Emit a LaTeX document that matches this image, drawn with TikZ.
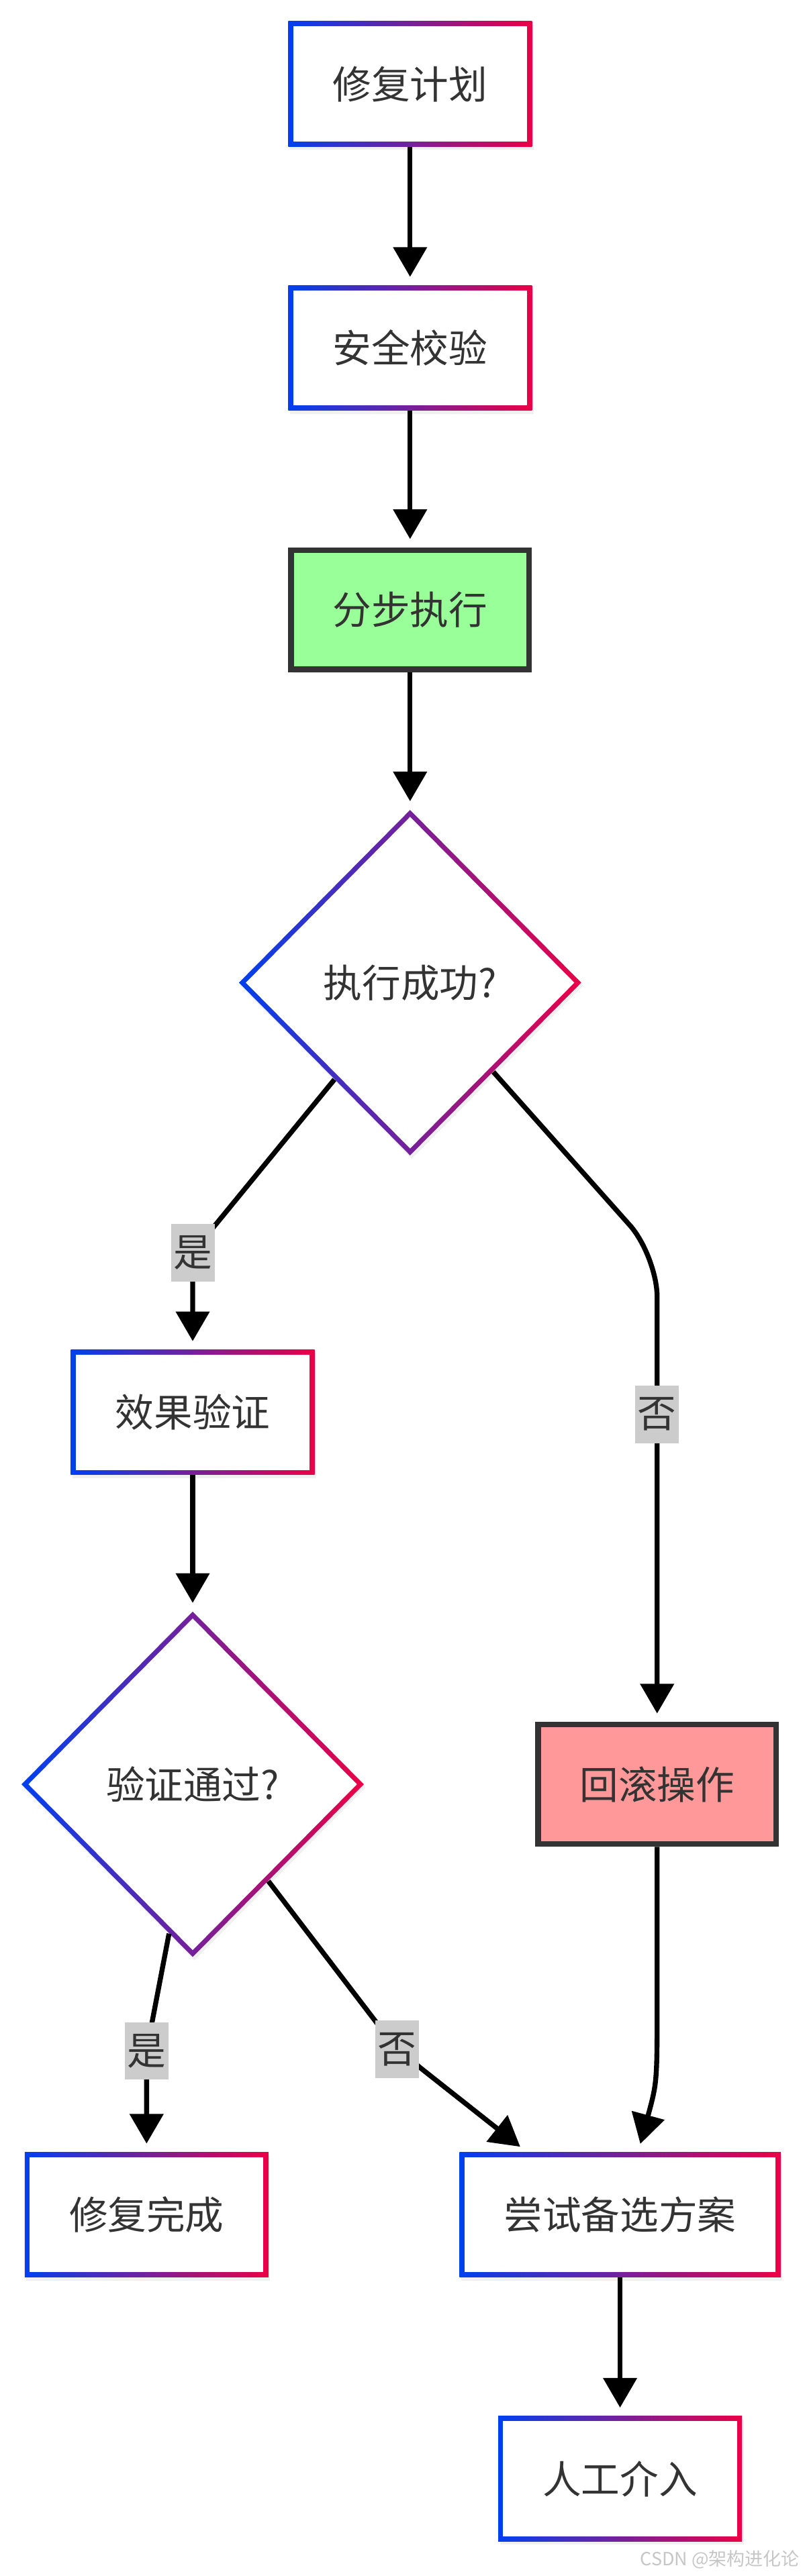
\documentclass[tikz,border=0pt]{standalone}
\usepackage{fontspec}
\setmainfont{Noto Sans CJK SC}
\usepackage{tikz}
\usetikzlibrary{shadows}
\usetikzlibrary{arrows.meta, positioning, shapes.geometric}
\definecolor{gblue}{RGB}{0,64,240}
\definecolor{gred}{RGB}{235,0,70}
\definecolor{txt}{HTML}{333333}
\definecolor{okgreen}{HTML}{99FF99}
\definecolor{badred}{HTML}{FF9999}
\definecolor{lblgray}{HTML}{CCCCCC}

\begin{document}
\begin{tikzpicture}[x=1pt, y=-1pt,
  every node/.style={text=txt, font=\fontsize{23.5}{28}\selectfont},
  gbox/.style={rectangle, minimum width=148pt, minimum height=76pt, inner sep=0pt,
    left color=gblue, right color=gred,
    drop shadow={opacity=0.12, shadow xshift=1pt, shadow yshift=-2pt},
    path picture={\fill[white] ([shift={(3pt,3pt)}]path picture bounding box.south west)
      rectangle ([shift={(-3pt,-3pt)}]path picture bounding box.north east);}},
  gdiamond/.style={diamond, minimum width=208pt, minimum height=210pt, inner sep=0pt,
    left color=gblue, right color=gred,
    drop shadow={opacity=0.12, shadow xshift=1pt, shadow yshift=-2pt},
    path picture={\fill[white] ([yshift=-4.2pt]path picture bounding box.north)
      -- ([xshift=-4.2pt]path picture bounding box.east)
      -- ([yshift=4.2pt]path picture bounding box.south)
      -- ([xshift=4.2pt]path picture bounding box.west) -- cycle;}},
  dbox/.style={rectangle, minimum width=144.5pt, minimum height=72.5pt, inner sep=0pt,
    draw=txt, line width=3.5pt,
    drop shadow={opacity=0.12, shadow xshift=1pt, shadow yshift=-2pt}},
  lbl/.style={rectangle, sharp corners, fill=lblgray, inner xsep=1.5pt, inner ysep=0pt,
    minimum height=35pt},
  arr/.style={line width=3pt, -{Triangle[width=20pt, length=18pt]}, shorten >=5pt}]
  \useasboundingbox (0,0) rectangle (490,1565);
  % main column
  \node[gbox] (plan) at (249,51) {修复计划};
  \node[gbox] (check) [below = 84pt of plan] {安全校验};
  \node[dbox, fill=okgreen] (exec) at (249,370.5) {分步执行};
  \node[gdiamond] (ok) at (249,597) {执行成功?};
  % two branches
  \node[gbox] (verify) at (117,858) {效果验证};
  \node[gdiamond] (pass) at (117,1084) {验证通过?};
  \node[dbox, fill=badred] (rollback) at (399,1084) {回滚操作};
  \node[gbox] (done) at (89,1345.5) {修复完成};
  \node[gbox, minimum width=195pt] (alt) at (376.5,1345.5) {尝试备选方案};
  \node[gbox] (manual) [below = 84pt of alt] {人工介入};
  \draw[arr] (plan) -- (check);
  \draw[arr] (check) -- (exec);
  \draw[arr] (exec) -- (ok);
  \draw[arr, rounded corners=18pt] (ok.232) -- (117,761) node[lbl] (yes1) {是} -- (verify);
  \draw[arr, rounded corners=25pt] (ok.313) -- (399,763) -- node[lbl, pos=0.34] (no1) {否} (rollback);
  \draw[arr] (verify) -- (pass);
  \draw[arr, rounded corners=12pt] (pass.261) -- (89,1246) node[lbl] (yes2) {是} -- (done);
  \draw[arr, rounded corners=20pt] (pass.308) -- (241,1245) node[lbl] (no2) {否} -- ([xshift=41pt]alt.north west);
  \draw[arr] (rollback) -- (399,1215) .. controls (399,1265) .. ([xshift=11pt]alt.north);
  \draw[arr] (alt) -- (manual);
  \node[anchor=south east, text=gray!45, font=\fontsize{11}{13}\selectfont] (mark) at (489,1564) {CSDN @架构进化论};
\end{tikzpicture}
\end{document}
